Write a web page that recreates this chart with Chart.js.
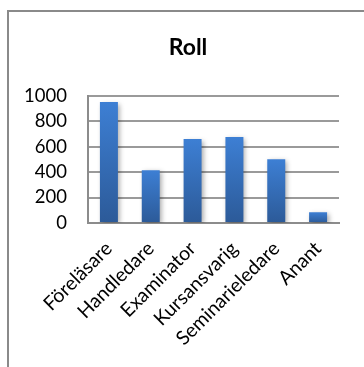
<!DOCTYPE html>
<html>
<head>
<meta charset="utf-8">
<script src="https://cdn.jsdelivr.net/npm/chart.js@4"></script>
<style>
  html, body { margin: 0; padding: 0; background: #fff; }
  #wrap { position: relative; width: 364px; height: 367px; overflow: hidden; }
  #frame { position: absolute; left: 7px; top: 10px; width: 400px; height: 400px;
           border-left: 2px solid #8a8a8a; border-top: 2px solid #8a8a8a; box-sizing: border-box; }
  canvas { position: absolute; left: 0; top: 0; }
</style>
</head>
<body>
<div id="wrap">
  <div id="frame"></div>
  <canvas id="c" width="364" height="367"></canvas>
</div>
<script>
const titleText = 'Roll';
const categories = ['Föreläsare', 'Handledare', 'Examinator', 'Kursansvarig', 'Seminarieledare', 'Anant'];
const values = [950, 415, 660, 675, 500, 85];
const yMin = 0;
const yMax = 1000;
const yStep = 200;

Chart.defaults.font.family = 'Lato, "Open Sans", sans-serif';
Chart.defaults.color = '#000';

function barGradient(ctx) {
  const chart = ctx.chart;
  const area = chart.chartArea;
  if (!area || ctx.type !== 'data') return '#3a78c8';
  const y = chart.scales.y;
  const top = y.getPixelForValue(ctx.raw);
  const bottom = y.getPixelForValue(0);
  const g = chart.ctx.createLinearGradient(0, top, 0, bottom);
  g.addColorStop(0, '#3d7fd4');
  g.addColorStop(1, '#2c5a98');
  return g;
}

const shadowPlugin = {
  id: 'barShadow',
  beforeDatasetsDraw(chart) {
    const c = chart.ctx;
    c.save();
    c.shadowColor = 'rgba(0,0,0,0.35)';
    c.shadowBlur = 5;
    c.shadowOffsetX = 2;
    c.shadowOffsetY = 2;
  },
  afterDatasetsDraw(chart) {
    chart.ctx.restore();
  }
};

new Chart(document.getElementById('c'), {
  type: 'bar',
  data: {
    labels: categories,
    datasets: [{
      data: values,
      backgroundColor: barGradient,
      borderWidth: 0,
      categoryPercentage: 1,
      barPercentage: 0.43
    }]
  },
  plugins: [shadowPlugin],
  options: {
    responsive: false,
    animation: false,
    events: [],
    layout: { padding: { left: 20, right: 8, top: 0, bottom: 0 } },
    plugins: {
      legend: { display: false },
      tooltip: { enabled: false },
      title: {
        display: true,
        text: titleText,
        color: '#000',
        font: { size: 23, weight: 'bold', lineHeight: 1.2 },
        padding: { top: 34, bottom: 34 }
      }
    },
    scales: {
      x: {
        grid: { display: false, drawTicks: false },
        border: { display: true, color: '#8c8c8c', width: 2 },
        ticks: {
          maxRotation: 45, minRotation: 45,
          padding: 14,
          font: { size: 19.5 },
          color: '#000',
          autoSkip: false
        },
        afterFit(scale) { scale.height = 144; }
      },
      y: {
        min: yMin, max: yMax,
        grid: { color: '#9a9a9a', lineWidth: 2, drawTicks: false },
        border: { display: true, color: '#8c8c8c', width: 2 },
        ticks: {
          stepSize: yStep,
          padding: 21,
          font: { size: 18.5 },
          color: '#000',
          callback: (v) => String(v)
        },
        afterFit(scale) { scale.width = 68; }
      },
      yRightSpacer: {
        position: 'right',
        display: true,
        grid: { display: false, drawTicks: false },
        border: { display: false },
        ticks: { display: false },
        afterFit(scale) { scale.width = 17; }
      }
    }
  }
});
</script>
</body>
</html>
